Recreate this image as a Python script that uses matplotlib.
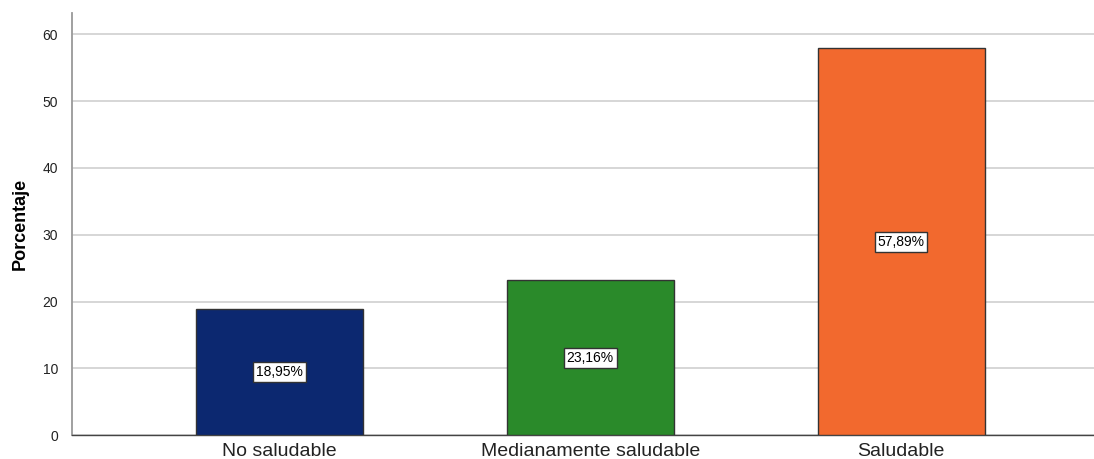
import numpy as np
import matplotlib.pyplot as plt

categories = ['No saludable', 'Medianamente saludable', 'Saludable']
percentages = [18.95, 23.16, 57.89]
bar_colors = ['#0c2870', '#2a8a2a', '#f2692e']
yticks = [0, 10, 20, 30, 40, 50, 60]

plt.rcParams['font.family'] = ['Liberation Sans', 'DejaVu Sans']

fig = plt.figure(figsize=(10.94, 4.59), dpi=100)
ax = fig.add_axes([0.0658, 0.052, 0.934, 0.9197])

x = np.arange(len(categories))
bars = ax.bar(x, percentages, width=0.537, color=bar_colors,
              edgecolor='#333333', linewidth=1.0, zorder=3)

for rect, val in zip(bars, percentages):
    ax.text(rect.get_x() + rect.get_width() / 2, val / 2,
            f'{val:.2f}%'.replace('.', ','),
            ha='center', va='center', fontsize=10, zorder=4,
            bbox=dict(boxstyle='square,pad=0.2', facecolor='white',
                      edgecolor='#333333', linewidth=1.0))

ax.set_xlim(-0.667, 2.62)
ax.set_ylim(0, 63.2)
ax.set_yticks(yticks)
ax.set_xticks(x)
ax.set_xticklabels(categories, fontsize=14, color='#222222')
ax.tick_params(axis='y', labelsize=10, length=0, pad=10, labelcolor='#222222')
ax.tick_params(axis='x', length=0, pad=6)
ax.yaxis.grid(True, color='#d0d0d0', linewidth=1.2, zorder=0)
ax.set_axisbelow(True)

ax.set_ylabel('Porcentaje', fontsize=13, fontweight='bold', labelpad=10,
              family=['Liberation Sans Narrow', 'Liberation Sans', 'DejaVu Sans'])

for side in ['top', 'right']:
    ax.spines[side].set_visible(False)
ax.spines['left'].set_color('#999999')
ax.spines['left'].set_linewidth(1.3)
ax.spines['bottom'].set_color('#444444')
ax.spines['bottom'].set_linewidth(1.0)

fig.savefig('out.png', dpi=100)
